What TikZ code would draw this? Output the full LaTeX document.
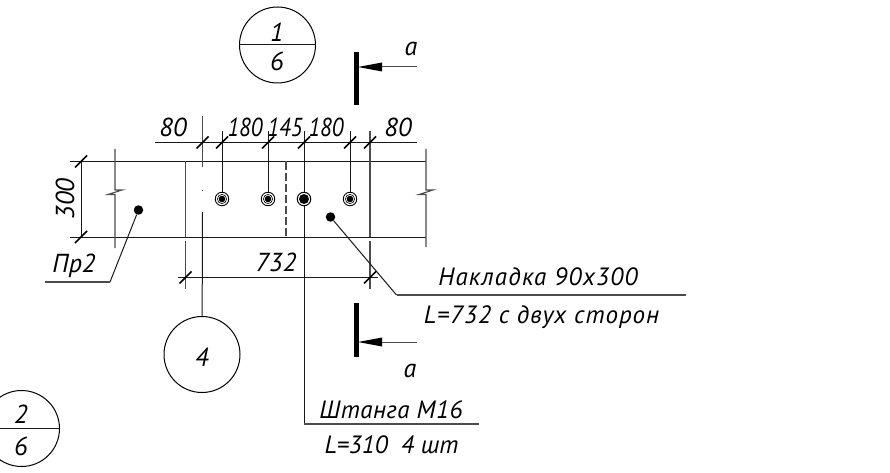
\documentclass[tikz,border=0pt]{standalone}
\usepackage{fontspec}
\setmainfont{PT Sans}
\usetikzlibrary{arrows.meta}
\tikzset{
  thinln/.style={line width=1pt,black!90},
  greyln/.style={line width=1.1pt,black!70},
  tickln/.style={line width=1.6pt,black},
  dimtext/.style={inner sep=0pt,font=\fontsize{26}{26}\selectfont\itshape,text height=18pt,text depth=0pt},
  narrowtext/.style={inner sep=0pt,font=\fontsize{26}{26}\selectfont\itshape\addfontfeature{FakeStretch=0.86},text height=18pt,text depth=0pt},
  labeltext/.style={inner sep=0pt,font=\fontsize{25}{25}\selectfont\itshape\addfontfeature{LetterSpace=#1},text height=17pt,text depth=0pt},
  markcircle/.style={circle,draw,line width=1pt,minimum size=76pt,inner sep=0pt},
  leaderdot/.style={circle,fill=black,inner sep=0pt,minimum size=#1},
  sectionbar/.style={line width=4.6pt,black},
  sectionarrow/.style={line width=1pt,black!70},
  sectionhead/.style={fill=black}
}
\newcommand{\tickat}[2]{\draw[tickln] (#1-6,#2+6) -- (#1+6,#2-6);}
\newcommand{\holeat}[3]{%
  \node[circle,draw,line width=0.9pt,minimum size=13.5pt,inner sep=0pt] (#3) at (#1,#2) {};
  \fill (#1,#2) circle (3.3pt);
  \draw[line width=0.6pt] (#1,#2) circle (4.6pt);}
\begin{document}
\begin{tikzpicture}[x=1pt,y=-1pt]
\useasboundingbox (0,0) rectangle (890,473);

% beam
\draw[thinln] (70,161.5) -- (426,161.5);
\draw[thinln] (70,237) -- (426,237);
% break lines
\draw[greyln] (115,149) -- (115,190) -- (122,190) -- (108,194.5) -- (115,194.5) -- (115,248);
\draw[greyln] (426,149) -- (426,190) -- (433,190) -- (419,194.5) -- (426,194.5) -- (426,247);
% plate
\draw[greyln] (185.5,161.5) -- (185.5,237);
\draw[greyln] (185.5,241) -- (185.5,289);
\draw[greyln] (370,131) -- (370,237);
\draw[greyln] (370,241) -- (370,289);
\draw[greyln,dash pattern=on 8pt off 3pt] (286,161.5) -- (286,237);
\draw[greyln] (202.5,116) -- (202.5,167);
\fill[black!70] (202,189.5) rectangle (203,190.5);

% holes
\holeat{222}{199}{h1}
\holeat{268}{199}{h2}
\holeat{350}{199}{h4}
\node[circle,draw,line width=1pt,minimum size=13.5pt,inner sep=0pt] (h3) at (304,199) {};
\fill (304,199) circle (5pt);

% mark circles
\node[markcircle] (c1) at (277.5,45) {};
\draw[thinln] (c1.west) -- (c1.east);
\node[markcircle] (c2) at (21.5,428.5) {};
\draw[thinln] (c2.west) -- (c2.east);
\node[markcircle] (c4) at (202,354.5) {};

% extension and leader lines
\coordinate (e1) at (222,131);
\coordinate (e2) at (268,131);
\coordinate (e3) at (304,131);
\coordinate (e4) at (350,131);
\draw[thinln] (e1) -- (h1);
\draw[thinln] (e2) -- (h2);
\draw[thinln] (e4) -- (h4);
\draw[thinln] (e3) -- (h3);
\coordinate (sh) at (304,424);
\coordinate (shend) at (479,424);
\draw[thinln] (h3) -- (sh);
\draw[greyln] (sh) -- (shend);
\coordinate (c4top) at (202.5,212);
\draw[thinln] (c4top) -- (c4);

% dimensions
\draw[thinln] (155,142.5) -- (417,142.5);
\foreach \x in {202.5,222,268,304,350,370} {\tickat{\x}{142.5}}
\draw[thinln] (81,161.5) -- (81,237);
\tickat{81}{161.5}
\tickat{81}{237}
\draw[thinln] (178,277.5) -- (378,277.5);
\tickat{185.5}{277.5}
\tickat{370}{277.5}

% leaders
\node[leaderdot=9.5pt] (d1) at (138.5,210) {};
\coordinate (k1) at (110,282);
\coordinate (k1e) at (45,282);
\draw[thinln] (d1) -- (k1);
\draw[greyln] (k1) -- (k1e);
\node[leaderdot=9.5pt] (d2) at (330.5,217) {};
\coordinate (k2) at (396.5,295);
\coordinate (k2e) at (686,295);
\draw[thinln] (d2) -- (k2);
\draw[greyln] (k2) -- (k2e);

% section marks
\coordinate (sa1) at (356.7,52);
\coordinate (sa2) at (356.7,105);
\draw[sectionbar] (sa1) -- (sa2);
\coordinate (sb1) at (356.7,303);
\coordinate (sb2) at (356.7,357);
\draw[sectionbar] (sb1) -- (sb2);
\draw[sectionarrow] (382,67) -- (417,67);
\fill[sectionhead] (358,67) -- (382,62.5) -- (382,71.5) -- cycle;
\draw[sectionarrow] (382,342) -- (417,342);
\fill[sectionhead] (358,342) -- (382,337.5) -- (382,346.5) -- cycle;

% texts
\node[dimtext] (t80a) at (173,128) {80};
\node[narrowtext] (t180a) at (245,128) {180};
\node[narrowtext] (t145) at (285,128) {145};
\node[narrowtext] (t180b) at (326,128) {180};
\node[dimtext] (t80b) at (398,128) {80};
\node[dimtext,rotate=90] (t300) at (65,199) {300};
\node[dimtext] (t732) at (276,262) {732};
\node[dimtext] (tpr) at (74,263.5) {Пр2};
\node[labeltext=5] (tn) at (538,277) {Накладка 90х300};
\node[labeltext=4] (tl) at (541.5,315) {L=732 с двух сторон};
\node[labeltext=2] (tsh) at (391,410) {Штанга М16};
\node[labeltext=0] (tl2) at (391.5,445) {L=310\ \ 4 шт};
\node[dimtext] (ta1) at (411,46.5) {a};
\node[dimtext] (ta2) at (410,368.5) {a};
\node[dimtext] (n1) at (277,33) {1};
\node[dimtext] (n6) at (277,62) {6};
\node[dimtext] (n4) at (202,357) {4};
\node[dimtext] (n2) at (21,414) {2};
\node[dimtext] (n6b) at (21,446) {6};
\end{tikzpicture}
\end{document}
